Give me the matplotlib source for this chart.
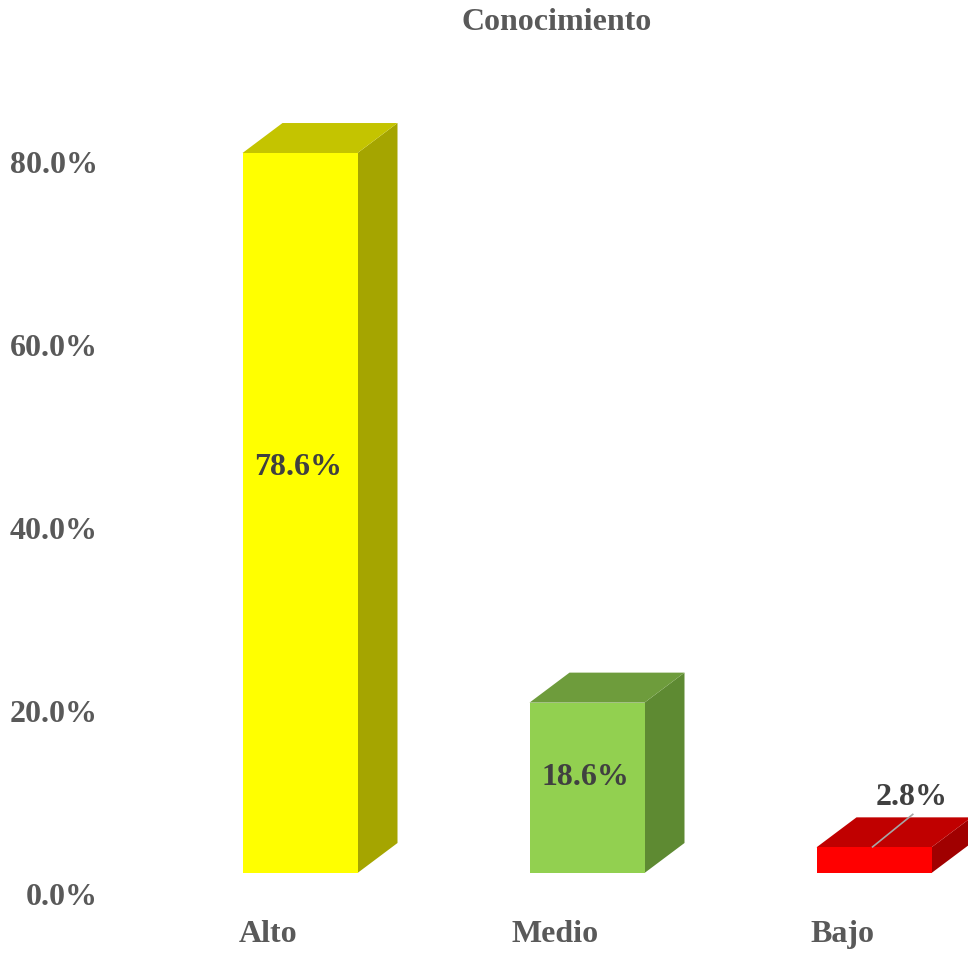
import matplotlib.pyplot as plt
from matplotlib.patches import Polygon
from matplotlib.transforms import ScaledTranslation

# data
categorias = ['Alto', 'Medio', 'Bajo']
valores = [78.6, 18.6, 2.8]
etiquetas = ['78.6%', '18.6%', '2.8%']
ticks_y = [0, 20, 40, 60, 80]
ticks_lbl = ['0.0%', '20.0%', '40.0%', '60.0%', '80.0%']

# colours: front, top, side
colores = [('#FFFF00', '#C4C400', '#A5A500'),
           ('#92D050', '#6E9C3C', '#5E8A32'),
           ('#FF0000', '#C00000', '#A00000')]

plt.rcParams['font.family'] = ['Liberation Serif', 'DejaVu Serif']
gris = '#595959'
fs = 23

fig = plt.figure(figsize=(9.68, 9.54), dpi=100)
ax = fig.add_axes([0, 0, 1, 1])
px_x = 287.0   # pixels per category unit
px_y = 9.16    # pixels per percent
ax.set_xlim(-300 / px_x, (968 - 300) / px_x)
ax.set_ylim(-80 / px_y, 874 / px_y)
ax.axis('off')

ancho = 115 / px_x
dx = 40 / px_x
dy = 30 / px_y

for i, (v, (cf, ct, cs)) in enumerate(zip(valores, colores)):
    x0 = i - ancho / 2
    x1 = i + ancho / 2
    # side face
    ax.add_patch(Polygon([(x1, 0), (x1 + dx, dy), (x1 + dx, v + dy), (x1, v)],
                         closed=True, facecolor=cs, edgecolor='none'))
    # top face
    ax.add_patch(Polygon([(x0, v), (x1, v), (x1 + dx, v + dy), (x0 + dx, v + dy)],
                         closed=True, facecolor=ct, edgecolor='none'))
    # front face
    ax.bar(i, v, width=ancho, color=cf, edgecolor='none')

# data labels
for i in range(2):
    ax.text(i - 0.005, valores[i] * 0.565, etiquetas[i], ha='center', va='center',
            fontsize=fs, fontweight='bold', color='#404040')
ax.plot([2 - 0.005, 2.135], [valores[2] + 0.05, 6.4], color='#A6A6A6', lw=1.2)
ax.text(2.13, 8.4, etiquetas[2], ha='center', va='center',
        fontsize=fs, fontweight='bold', color='#404040')

# category labels
for i, c in enumerate(categorias):
    ax.text(i - 0.11, -6.6, c, ha='center', va='center',
            fontsize=fs, fontweight='bold', color=gris)

# value axis labels (drawn on the back wall, a bit lower than the front)
off = ScaledTranslation(0, -24 / 100, fig.dpi_scale_trans)
for t, l in zip(ticks_y, ticks_lbl):
    ax.text(98 / px_x - 300 / px_x, t, l, ha='right', va='center',
            fontsize=fs, fontweight='bold', color=gris,
            transform=ax.transData + off)

fig.text(557 / 968, 1 - 23 / 954, 'Conocimiento', ha='center', va='center',
         fontsize=fs, fontweight='bold', color=gris)

fig.savefig('out.png', dpi=100)
